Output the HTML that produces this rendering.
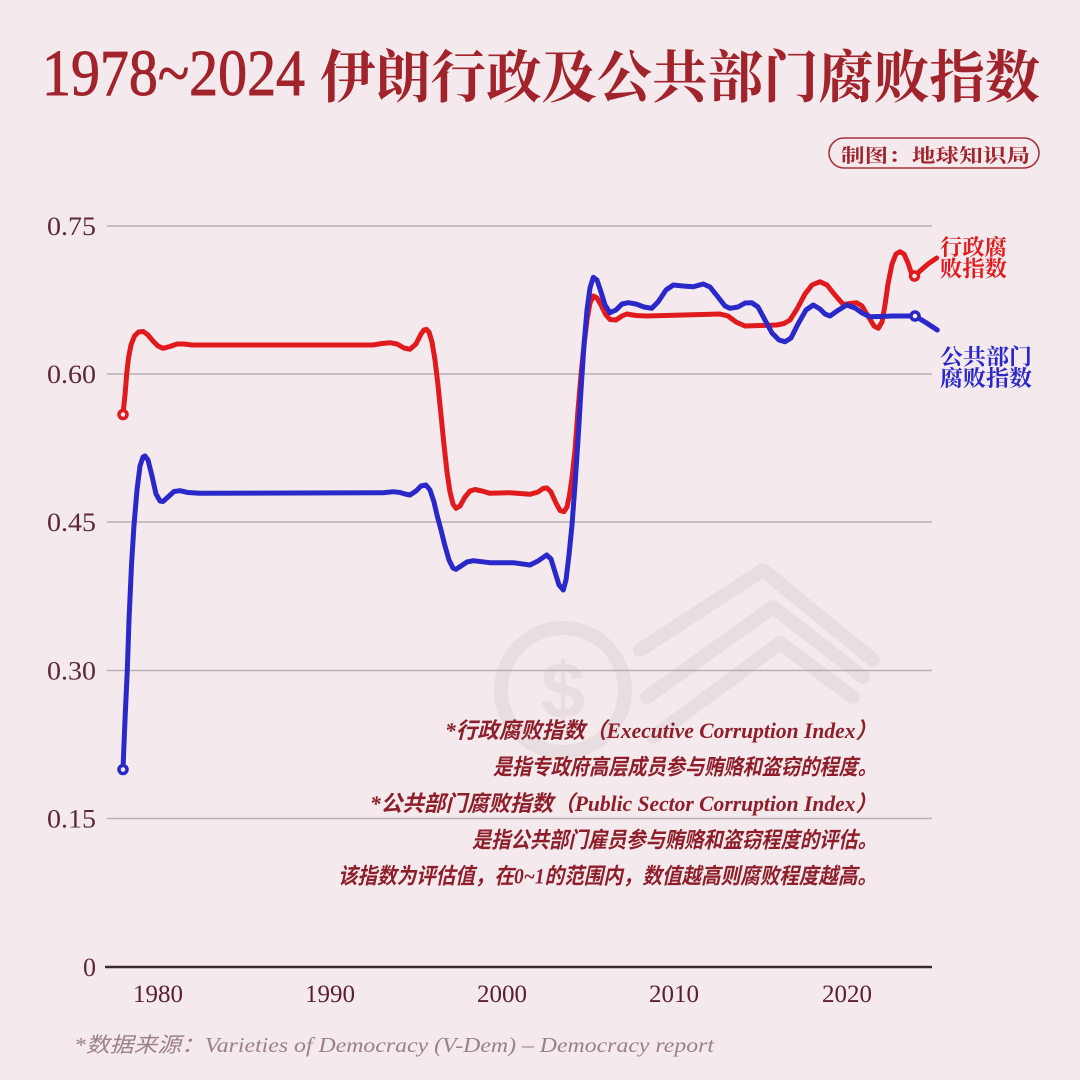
<!DOCTYPE html>
<html><head><meta charset="utf-8">
<style>
html,body{margin:0;padding:0;background:#f4eaee;}
svg{display:block;}
</style></head>
<body>
<svg width="1080" height="1080" viewBox="0 0 1080 1080" xmlns="http://www.w3.org/2000/svg">
<rect width="1080" height="1080" fill="#f4eaee"/>

<!-- watermark -->
<g fill="none" stroke="#e8dde1" stroke-width="14" stroke-linecap="round" stroke-linejoin="round">
  <circle cx="563" cy="690" r="62"/>
  <polyline points="640,650 763,570 873,660"/>
  <polyline points="647,697 773,607 863,677"/>
  <polyline points="653,737 780,643 853,697"/>
</g>
<text x="563" y="718" font-family="Liberation Sans, sans-serif" font-size="80" font-weight="bold" fill="#e8dde1" text-anchor="middle">$</text>

<!-- title -->
<text x="42" y="95" font-family="Liberation Serif, serif" font-size="66" fill="#a1232b" stroke="#a1232b" stroke-width="0.9" textLength="263" lengthAdjust="spacingAndGlyphs">1978~2024</text>
<text x="320" y="97" font-family="Noto Serif CJK SC, serif" font-weight="bold" font-size="57" fill="#a1232b" textLength="720" lengthAdjust="spacingAndGlyphs">伊朗行政及公共部门腐败指数</text>

<!-- badge -->
<rect x="829" y="138" width="210" height="30" rx="15" ry="15" fill="none" stroke="#a8323a" stroke-width="1.6"/>
<text x="841" y="162" font-family="Noto Serif CJK SC, serif" font-weight="bold" font-size="19" fill="#a1232b" textLength="189" lengthAdjust="spacingAndGlyphs">制图：地球知识局</text>

<!-- gridlines -->
<g stroke="#bcaeb2" stroke-width="1.5">
  <line x1="107" y1="226" x2="932" y2="226"/>
  <line x1="107" y1="374" x2="932" y2="374"/>
  <line x1="107" y1="522" x2="932" y2="522"/>
  <line x1="107" y1="670.5" x2="932" y2="670.5"/>
  <line x1="107" y1="818.5" x2="932" y2="818.5"/>
</g>
<line x1="105" y1="967" x2="932" y2="967" stroke="#3b2b30" stroke-width="2.5"/>

<!-- y labels -->
<g font-family="Liberation Serif, serif" font-size="26" fill="#5b2833" text-anchor="end">
  <text x="96" y="235" textLength="49" lengthAdjust="spacingAndGlyphs">0.75</text>
  <text x="96" y="383" textLength="49" lengthAdjust="spacingAndGlyphs">0.60</text>
  <text x="96" y="531" textLength="49" lengthAdjust="spacingAndGlyphs">0.45</text>
  <text x="96" y="679.5" textLength="49" lengthAdjust="spacingAndGlyphs">0.30</text>
  <text x="96" y="827.5" textLength="49" lengthAdjust="spacingAndGlyphs">0.15</text>
  <text x="96" y="976">0</text>
</g>

<!-- x labels -->
<g font-family="Liberation Serif, serif" font-size="25" fill="#5b2030" text-anchor="middle">
  <text x="158" y="1002">1980</text>
  <text x="330" y="1002">1990</text>
  <text x="502" y="1002">2000</text>
  <text x="674" y="1002">2010</text>
  <text x="847" y="1002">2020</text>
</g>

<!-- annotation -->
<g font-family="Liberation Serif, Noto Sans CJK SC, serif" font-style="italic" font-size="22" fill="#8e1f2a" text-anchor="end" font-weight="bold">
  <text x="877" y="738" textLength="432" lengthAdjust="spacingAndGlyphs">*行政腐败指数（Executive Corruption Index）</text>
  <text x="877" y="774.5" textLength="384" lengthAdjust="spacingAndGlyphs">是指专政府高层成员参与贿赂和盗窃的程度。</text>
  <text x="877" y="811" textLength="507" lengthAdjust="spacingAndGlyphs">*公共部门腐败指数（Public Sector Corruption Index）</text>
  <text x="877" y="847.5" textLength="405" lengthAdjust="spacingAndGlyphs">是指公共部门雇员参与贿赂和盗窃程度的评估。</text>
  <text x="877" y="883.5" textLength="539" lengthAdjust="spacingAndGlyphs">该指数为评估值，在0~1的范围内，数值越高则腐败程度越高。</text>
</g>

<!-- footer -->
<text x="74" y="1052" font-family="Liberation Serif, Noto Sans CJK SC, serif" font-style="italic" font-size="21" fill="#9b8089" textLength="640" lengthAdjust="spacingAndGlyphs">*数据来源：Varieties of Democracy (V-Dem) – Democracy report</text>

<!-- series -->
<polyline fill="none" stroke="#e01a1d" stroke-width="5" stroke-linejoin="round" stroke-linecap="round"
points="123,414 125,395 126.7,374 128.5,358 131,345 134.5,336 138.5,332 143.3,331.5 148,335 153,341 158,346 163,348.3 170,346.5 177,344 184,344 192,345 373,345 382,343.5 390,342.7 397,344 404,348 410,349.3 416,344 421,334 424,330 426.5,329.5 429,332 432,342 435,360 438,385 441,415 444,445 447,472 450,492 453,504 456,508.3 460,506 465,497 470,491 475,489.5 482,491 490,493.3 510,492.7 530,494.3 538,492 543,488.5 547,488 551,492 556,503 560,510.5 564,511.7 567,507 569.5,495 572,478 575,450 578,410 581,375 584,345 587,320 590,303 593.3,296 597,298 601,305 606,315 610,319.5 616,320 622,316 626.7,314 636,315.5 646.7,316 720,314 728,316 736,322 745,326 760,325.5 776.7,325 784,323.5 790,320 797,309 805,294 812,285 820,281.7 827,285 835,295 843.3,304.5 850,303.5 856.7,302.7 862,306 868,316 874,326 878.3,328.3 882,322 885,305 888,284 892,264 896,254 900,251.7 904,254 908,263 911,272 914.3,276 920,271 928,264 936.7,258"/>

<polyline fill="none" stroke="#2a28c9" stroke-width="5" stroke-linejoin="round" stroke-linecap="round"
points="123,769 125,720 127.3,670 129,620 131.5,565 134,525 137,490 140,466 143,457 145,456 148,460 152,476 156,494 160,501 163,501.5 168,497 174,491.5 180,490.7 188,492.5 200,493.3 383,492.7 393,491.7 400,492.5 405,494 410,495 416,491 421,486 426,485 430,490 434,502 437,515 441,530 445,546 449,560 453,568 456,569.3 461,566 467,562 473.3,560.7 490,562.7 513.3,562.7 530,565 538,561 546.7,555 551,559 555,572 559,585 563.3,590 566,580 569,555 572,525 575,485 578,440 581,390 584,345 587,310 590,288 593.3,277.3 597,280 601,292 605,305 610,312.7 616,310 622,304 628.3,302.7 636,304 644,307 651.7,308.3 658,302 666,290 673.3,285 683,286 693.3,286.7 703.3,284 710,287 718,297 725,306 730,308.3 738,307 745,303 751.7,302.7 758,307 765,320 772,333 779,340 785,341.7 791,338 798,324 806,310 813.3,305 820,309 825,314 830,316 837,311 846.7,305 855,308 862,313 870,316.7 880,316.5 893.3,316 915,316 925,322 937.3,330"/>

<!-- end markers -->
<g fill="#f6eef1" stroke-width="3.5">
  <circle cx="123" cy="414.5" r="4" stroke="#e01a1d"/>
  <circle cx="914.5" cy="276" r="4" stroke="#e01a1d"/>
  <circle cx="123" cy="769.5" r="4" stroke="#2a28c9"/>
  <circle cx="915" cy="316" r="4" stroke="#2a28c9"/>
</g>

<!-- series labels -->
<g font-family="Noto Serif CJK SC, serif" font-weight="bold" font-size="22">
  <text x="940" y="255" fill="#e01a1d" textLength="67" lengthAdjust="spacingAndGlyphs">行政腐</text>
  <text x="940" y="276.5" fill="#e01a1d" textLength="67" lengthAdjust="spacingAndGlyphs">败指数</text>
  <text x="940" y="364.5" fill="#2a28c9" textLength="92" lengthAdjust="spacingAndGlyphs">公共部门</text>
  <text x="940" y="386" fill="#2a28c9" textLength="92" lengthAdjust="spacingAndGlyphs">腐败指数</text>
</g>
</svg>
</body></html>
